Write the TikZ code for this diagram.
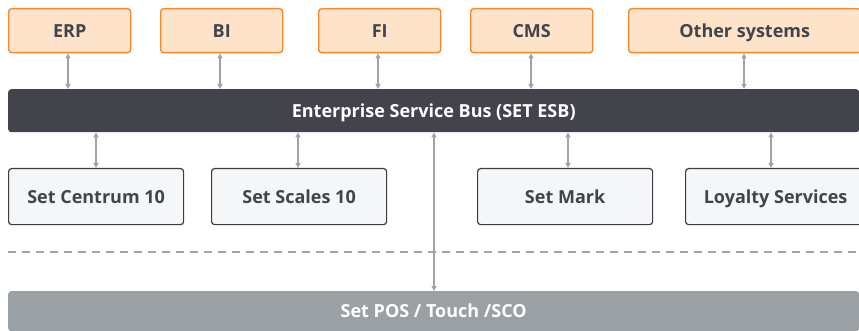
\documentclass[tikz,border=0pt]{standalone}
\usepackage{fontspec}
\setmainfont{Open Sans}
\usetikzlibrary{arrows.meta}
\definecolor{orfill}{HTML}{FDE3C9}
\definecolor{ordraw}{HTML}{F6892B}
\definecolor{ltfill}{HTML}{F4F6F8}
\definecolor{ltdraw}{HTML}{3C3C42}
\definecolor{busfill}{HTML}{43434C}
\definecolor{posfill}{HTML}{9AA0A3}
\definecolor{txt}{HTML}{43434C}
\definecolor{arr}{HTML}{A3A3A3}
\tikzset{
  x=1pt,y=-1pt,
  base/.style={inner sep=0pt, font=\bfseries\fontsize{18}{20}\selectfont, anchor=north west, text height=12.9pt, text depth=0pt},
  extbox/.style={base, draw=ordraw, fill=orfill, line width=1.4pt, rounded corners=3pt, text=txt, minimum height=44pt},
  modbox/.style={base, draw=ltdraw, fill=ltfill, line width=1.2pt, rounded corners=3pt, text=txt, minimum height=56pt, minimum width=175pt},
  busbar/.style={base, fill=busfill, text=white, rounded corners=3pt, minimum height=43pt},
  posbar/.style={base, fill=posfill, text=white, rounded corners=3pt, minimum height=40pt},
  link/.style={draw=arr, line width=1.2pt, {Triangle[length=5pt,width=5pt]}-{Triangle[length=5pt,width=5pt]}},
}
\begin{document}
\begin{tikzpicture}
\useasboundingbox (0,0) rectangle (859,331);
\node[extbox, minimum width=122pt] (erp) at (8,8) {ERP};
\node[extbox, minimum width=122pt] (bi) at (160,8) {BI};
\node[extbox, minimum width=122pt] (fi) at (318,8) {FI};
\node[extbox, minimum width=122pt] (cms) at (470,8) {CMS};
\node[extbox, minimum width=232pt] (oth) at (628,8) {Other systems};
\node[busbar, minimum width=851pt] (bus) at (8,89) {Enterprise Service Bus (SET ESB)};
\node[modbox] (cen) at (8,168) {Set Centrum 10};
\node[modbox] (sca) at (211,168) {Set Scales 10};
\node[modbox] (mar) at (477,168) {Set Mark};
\node[modbox, minimum width=180pt] (loy) at (685,168) {Loyalty Services};
\node[posbar, minimum width=851pt] (pos) at (8,291) {Set POS / Touch /SCO};
\draw[dashed, draw=arr, line width=1.2pt, dash pattern=on 8pt off 6pt] (8,252) -- (859,252);
\draw[link] (erp.south -| 68,0) -- (bus.north -| 68,0);
\draw[link] (bi.south -| 220,0) -- (bus.north -| 220,0);
\draw[link] (fi.south -| 378,0) -- (bus.north -| 378,0);
\draw[link] (cms.south -| 531,0) -- (bus.north -| 531,0);
\draw[link] (oth.south -| 744,0) -- (bus.north -| 744,0);
\draw[link] (bus.south -| 96,0) -- (cen.north -| 96,0);
\draw[link] (bus.south -| 298,0) -- (sca.north -| 298,0);
\draw[link] (bus.south -| 568,0) -- (mar.north -| 568,0);
\draw[link] (bus.south -| 771,0) -- (loy.north -| 771,0);
\draw[link] (bus.south -| 434,0) -- (pos.north -| 434,0);
\end{tikzpicture}
\end{document}
